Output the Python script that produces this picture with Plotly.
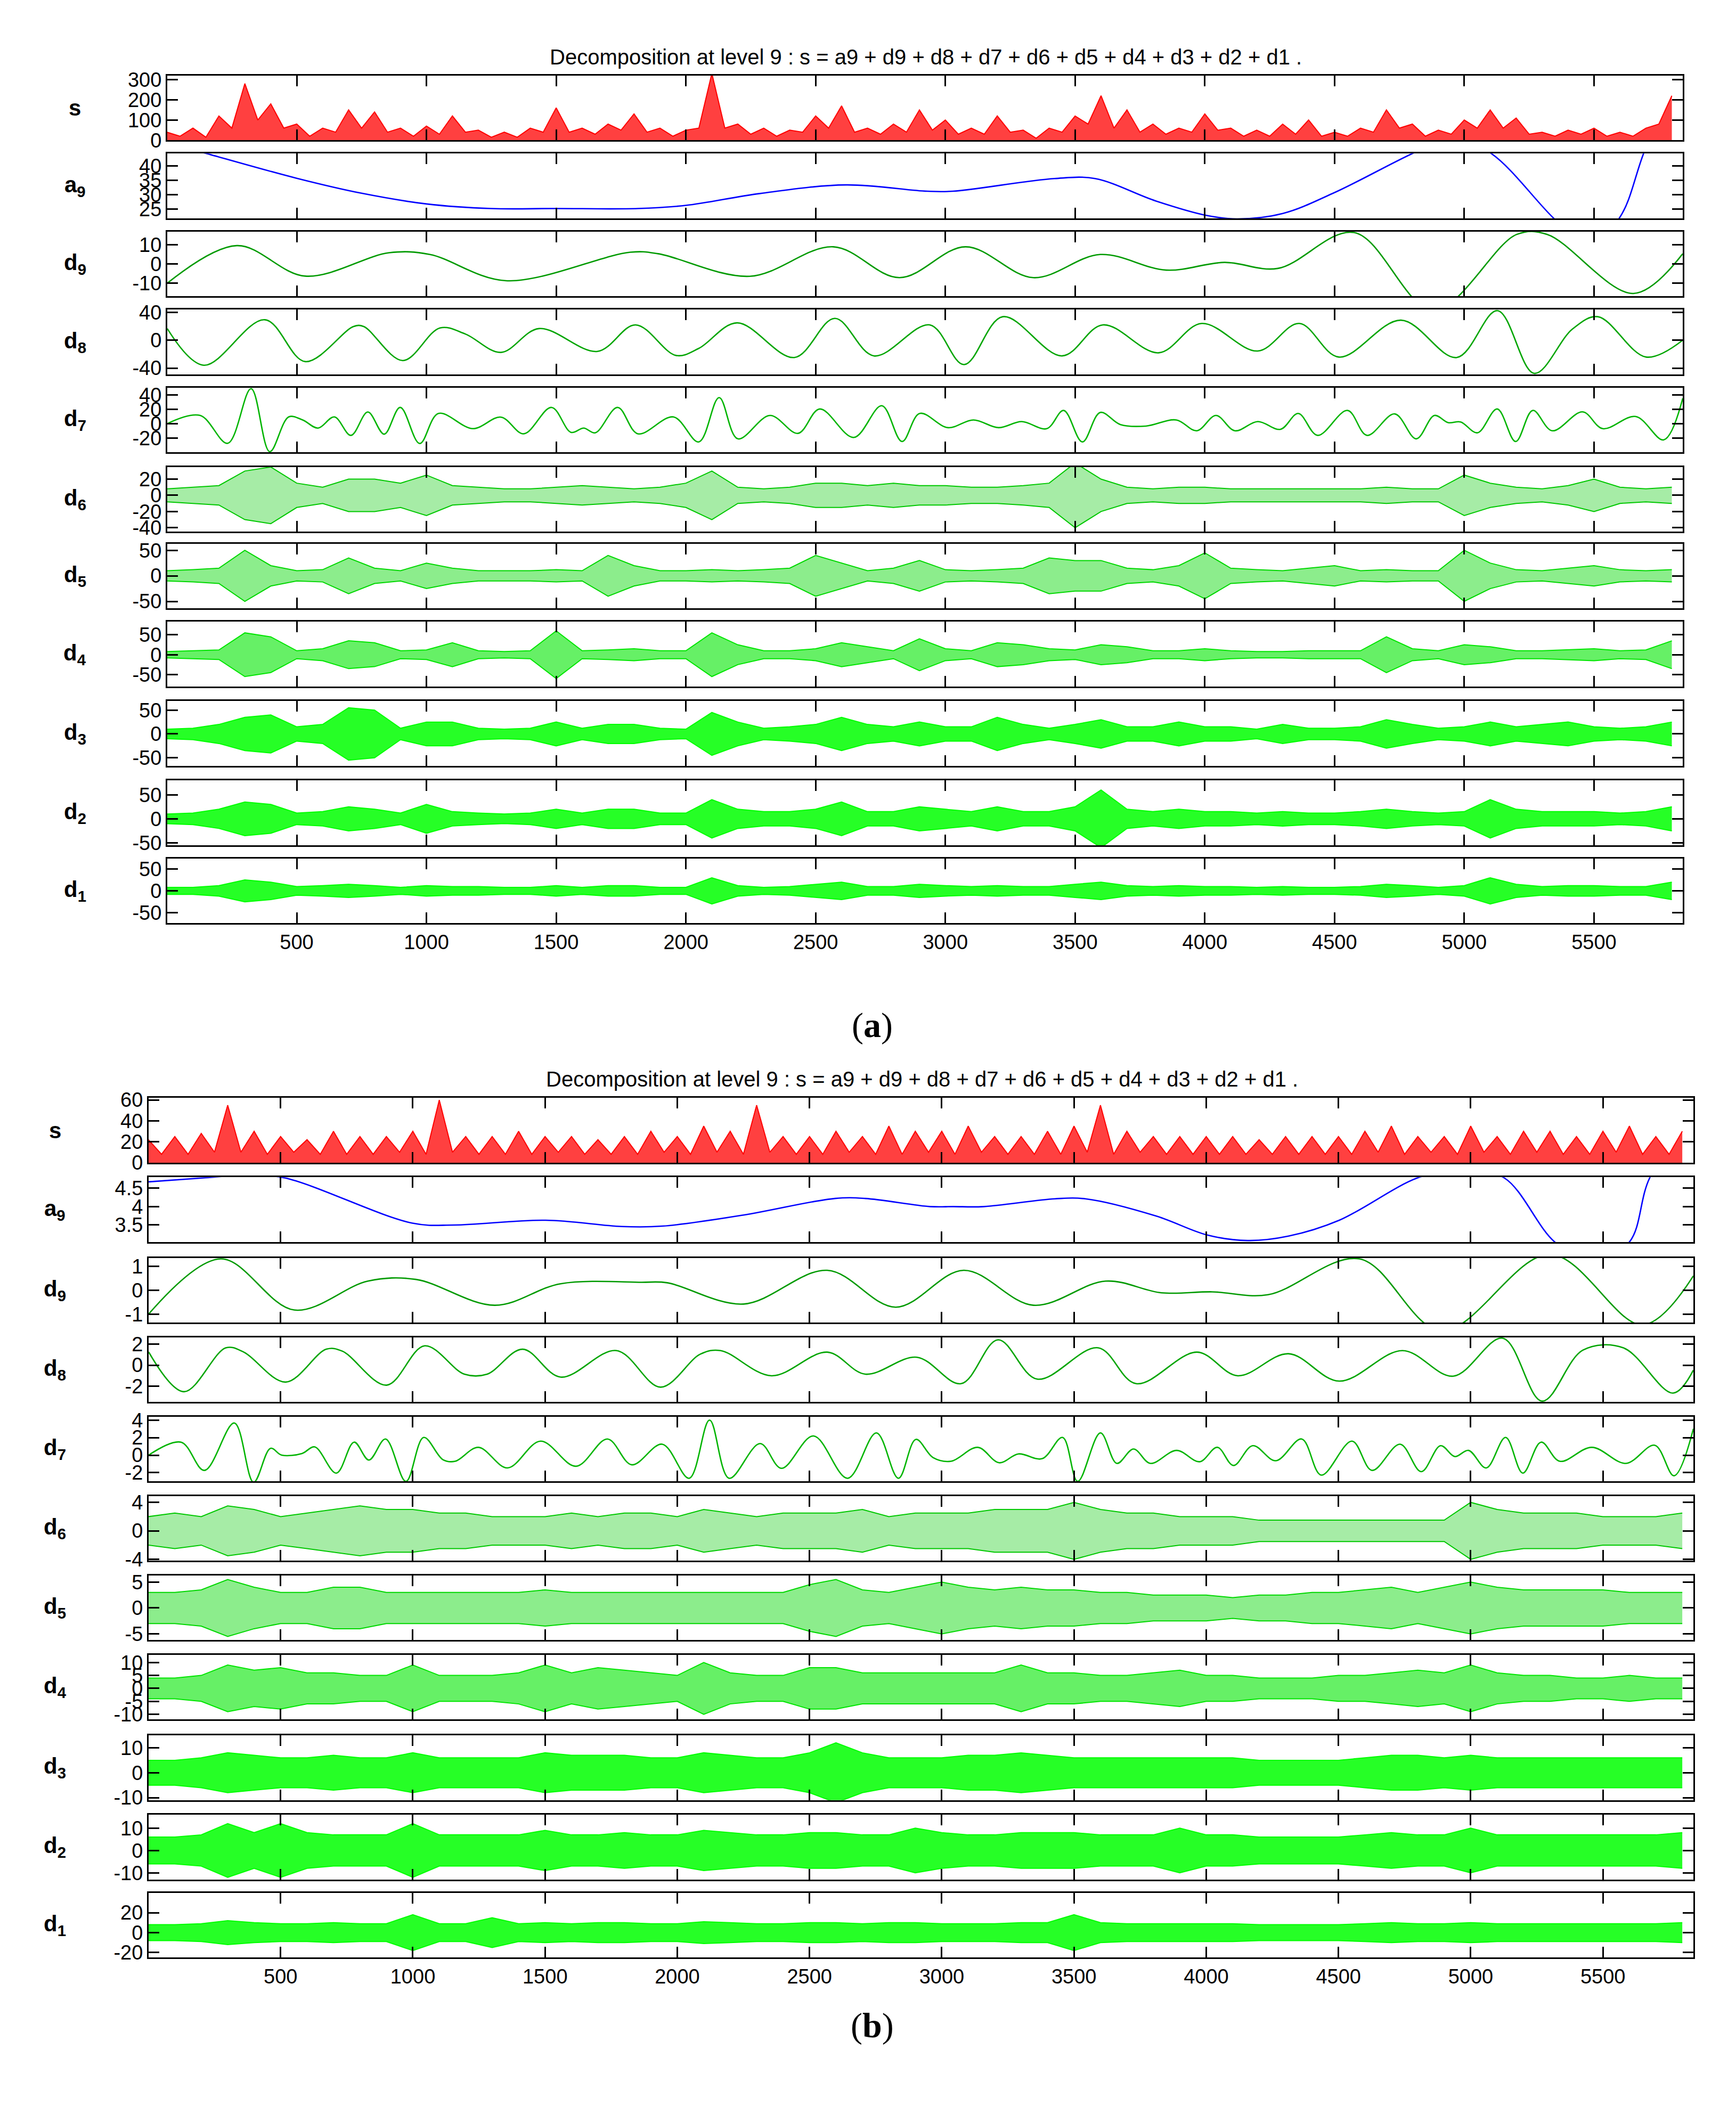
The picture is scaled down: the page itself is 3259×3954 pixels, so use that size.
import plotly.graph_objects as go

W, H = 3259, 3954
SC = 3954 / 1577.0

ENV_X = [i * 100 for i in range(59)]
XTICKS = [500, 1000, 1500, 2000, 2500, 3000, 3500, 4000, 4500, 5000, 5500]

# ---------------- panel (a) ----------------
a_s = [40,20, 60,15, 120,60, 280,100, 180,60, 80,20, 60,40, 150,60, 140,40, 60,20, 70,30, 120,40, 50,15, 40,15, 60,40, 160,40, 60,30, 80,50, 130,40, 60,20, 50,60, 330,60, 80,30, 60,20, 50,40, 120,60, 170,40, 60,30, 80,40, 150,50, 100,30, 60,30, 120,40, 50,10, 60,40, 120,80, 220,60, 150,40, 80,30, 60,40, 130,50, 60,20, 50,20, 80,30, 100,20, 40,20, 60,40, 150,60, 80,20, 50,30, 100,60, 150,60, 110,30, 40,20, 50,30, 60,20, 40,20, 60,80, 220]
a_a9_x = [1,152,500,750,1000,1248,1496,1815,2001,2285,2617,2930,3029,3420,3577,3812,4007,4125,4301,4499,4800,4950,5104,5345,5470,5597,5691,5842]
a_a9_y = [48,44.3,35.7,30.5,26.8,25.2,25.2,25.2,26.3,30.4,33.4,31.2,31.2,35.6,35.6,27.8,22.8,21.6,23.5,30.7,44.3,50,44.3,21.8,12,21.8,44.3,80]
a_d9_x = [1,269,533,856,1013,1306,1786,1893,2246,2568,2823,3078,3339,3597,3851,4076,4282,4575,4880,5202,5320,5652,5842]
a_d9_y = [-10,9.5,-6.3,5.8,4.9,-8.7,6.1,5.3,-6.4,8.9,-7.1,8.9,-7.1,4.9,-3.2,0.8,-2.3,16.3,-24,15.3,15.3,-15.3,5.3]
a_d8_x = [1,142,377,533,719,758,909,1052,1150,1287,1434,1659,1806,1962,2050,2197,2418,2574,2725,2940,3072,3221,3450,3607,3822,3988,4204,4364,4517,4756,4971,5128,5270,5417,5515,5701,5842]
a_d8_y = [16.6,-35.9,29.2,-30.7,19.6,19.6,-29.2,17.5,8.8,-17.5,16.6,-16.1,21.9,-21.9,-11.7,24.8,-24.8,31.2,-22.5,21.9,-35,33.6,-22.5,21.9,-18.1,23.9,-15.5,23.9,-24.2,28.6,-24.8,42.3,-47.6,16,33.6,-24.2,0]
a_d7_x = [1,128,234,324,396,469,523,582,645,709,774,837,899,974,1046,1179,1287,1375,1482,1557,1606,1651,1737,1815,1952,2050,2128,2200,2324,2432,2516,2647,2755,2833,2901,3010,3108,3205,3294,3391,3456,3528,3597,3675,3773,3890,3969,4043,4116,4204,4292,4360,4435,4550,4625,4732,4815,4885,4938,4986,5051,5127,5198,5264,5339,5456,5534,5661,5769,5842]
a_d7_y = [0,11.3,-27.3,48.5,-38.9,9.3,5.1,-6.2,9.3,-16.3,16.1,-14.6,22.5,-27.6,14.1,-7,9,-14.1,22.5,-12.1,-6.2,-12.7,22.5,-14.1,9.3,-25.4,36.1,-21.1,11.3,-13.5,20.3,-19.2,24.8,-24.8,14.1,-5.6,5.1,-5.6,2.8,-7,18.3,-25.4,15.5,-1.4,-3.4,5.1,-9.9,11.3,-9.9,2.8,-7.9,14.1,-16.3,18.3,-16.3,13.5,-21.1,11.3,1.4,2.3,-12.7,20.3,-24.8,18.3,-9.9,16.3,-7,9.9,-22.5,35.2]
a_d6_env = [8,10,12,30,35,15,10,20,20,15,25,12,10,8,8,10,12,10,8,10,15,30,10,8,10,15,15,12,15,12,12,10,10,12,15,40,20,10,8,10,10,8,8,8,8,8,8,10,8,8,25,15,10,8,12,20,10,8,10]
a_d5_env = [10,12,15,50,20,10,12,35,15,10,25,15,10,10,10,12,10,40,20,10,10,12,10,12,15,40,25,10,15,30,12,10,12,15,35,30,30,15,12,20,45,15,12,10,15,20,10,12,10,10,50,25,12,10,15,20,12,10,12]
a_d4_env = [8,10,12,55,45,10,15,35,30,10,12,30,10,8,10,60,10,12,15,10,10,55,25,10,10,15,30,20,10,40,15,10,30,25,15,12,25,20,10,10,15,10,8,8,10,10,10,45,15,10,25,20,10,10,12,15,10,12,35]
a_d3_env = [10,12,20,35,40,15,20,55,50,12,25,25,12,10,12,25,12,20,20,12,10,45,25,12,15,20,35,20,15,25,15,15,35,20,12,20,30,15,15,25,15,15,10,20,12,12,15,30,20,12,15,25,15,20,25,15,12,15,25]
a_d2_env = [10,12,20,35,30,12,15,25,20,12,30,15,12,10,12,20,12,20,20,12,12,40,20,15,15,20,35,15,15,25,20,15,25,15,15,25,60,20,15,20,15,15,12,15,12,12,15,20,15,12,15,40,20,15,15,15,12,15,25]
a_d1_env = [8,8,12,25,20,10,12,15,12,8,12,10,10,8,8,12,8,12,12,8,8,30,12,8,10,15,20,10,10,15,12,10,12,10,10,15,20,12,10,12,10,10,8,10,8,8,10,15,12,8,12,30,15,10,12,12,10,10,20]

# ---------------- panel (b) ----------------
b_s = [22,8, 25,8, 28,10, 55,10, 30,8, 25,10, 22,8, 30,8, 25,8, 25,10, 30,8, 60,10, 25,8, 25,8, 30,8, 25,10, 25,8, 22,8, 25,8, 30,10, 25,8, 35,10, 30,8, 55,10, 25,8, 25,8, 30,10, 25,8, 35,8, 30,10, 30,8, 35,10, 25,8, 25,8, 30,8, 35,10, 55,8, 30,10, 25,8, 25,8, 25,8, 25,8, 22,8, 25,8, 25,8, 25,8, 30,10, 35,8, 25,10, 25,8, 35,10, 25,8, 30,10, 30,8, 25,8, 30,10, 35,8, 25,8, 30]
b_a9_x = [1,216,360,513,999,1156,1502,1790,1943,2250,2596,2711,2956,3044,3159,3428,3543,3812,4004,4157,4311,4503,4800,4960,5126,5318,5460,5600,5677,5842]
b_a9_y = [4.67,4.78,4.85,4.78,3.55,3.50,3.63,3.46,3.47,3.77,4.22,4.22,4.0,4.0,4.0,4.21,4.21,3.74,3.23,3.08,3.2,3.63,4.78,5.0,4.78,3.04,2.5,3.04,4.78,6.5]
b_d9_x = [1,274,552,830,1012,1310,1559,1866,1962,2250,2567,2826,3083,3347,3620,3831,4023,4234,4579,4890,5300,5650,5842]
b_d9_y = [-1.0,1.31,-0.83,0.38,0.45,-0.63,0.27,0.33,0.31,-0.58,0.83,-0.71,0.83,-0.63,0.38,-0.11,-0.07,-0.19,1.31,-1.7,1.5,-1.45,0.6]
b_d8_x = [1,135,293,361,519,673,734,901,1045,1195,1281,1415,1559,1770,1937,2087,2164,2356,2567,2711,2906,3073,3213,3361,3591,3735,3965,4119,4311,4503,4742,4934,5121,5270,5424,5577,5765,5842]
b_d8_y = [1.26,-2.51,1.64,1.23,-1.6,1.51,1.32,-1.89,1.83,-0.85,-0.85,1.51,-1.13,1.38,-2.08,1.04,1.38,-1.0,1.23,-0.85,0.75,-1.75,2.4,-1.32,1.64,-1.75,1.23,-1.0,1.08,-1.51,1.38,-1.04,2.55,-3.4,1.42,1.64,-2.64,-0.47]
b_d7_x = [1,124,212,325,398,462,504,581,629,711,778,834,897,974,1041,1114,1160,1248,1358,1483,1617,1736,1828,1943,2045,2122,2196,2313,2394,2515,2644,2753,2836,2902,2967,3035,3136,3217,3290,3380,3457,3514,3600,3662,3725,3789,3888,3975,4042,4103,4176,4263,4361,4435,4551,4627,4733,4813,4886,4940,4992,5059,5132,5197,5266,5337,5458,5587,5696,5769,5842]
b_d7_y = [0,1.48,-1.74,3.67,-3.1,0.78,0,0.19,0.94,-2.05,1.48,-0.56,1.84,-3.0,2.02,-0.52,-0.7,0.89,-1.46,1.6,-1.27,1.84,-1.1,1.25,-2.64,4.0,-2.64,1.32,-1.5,2.19,-2.64,2.54,-2.64,1.8,-0.28,-0.7,0.89,-0.87,0.14,-0.4,2.02,-3.0,2.54,-0.94,0.7,-0.94,0.54,-0.75,0.89,-1.18,1.08,-0.64,1.84,-2.28,1.6,-1.74,1.25,-1.88,1.08,-0.16,0.54,-1.46,2.02,-2.05,1.48,-0.7,0.89,-0.94,1.13,-2.35,3.01]
b_d6_env = [2,2.5,2,3.5,3,2,2.5,3,3.5,3,3,2.5,2.5,2,2,2,2.5,2,2.5,2.5,2,3,2.5,2,2.5,2.5,2.5,3,2,2.5,2.5,2.5,3,3,3,4,3,2.5,2.5,2,2,2,1.5,1.5,1.5,1.5,1.5,1.5,1.5,1.5,4,3,2.5,2.5,2.5,2,2,2,2.5]
b_d5_env = [3,3,3.5,5.5,4,3,3,4,4,3,3,3,3,3,3,3.5,3,3,3,3,3,3,3,3,3,4.5,5.5,3.5,3,4,5,4,3.5,4,3.5,3.5,3,3,2.5,2.5,2.5,2,2.5,2.5,3,3,3.5,4,3,4,5,4,3.5,3.5,3.5,3.5,3,3,3]
b_d4_env = [4,4,5,9,7,8,6,6,5,5,9,5,5,5,6,9,6,8,7,6,5,10,6,5,5,8,8,6,6,6,6,6,6,9,6,6,5,5,6,7,5,5,4,4,4,5,5,6,7,6,9,6,5,5,4,4,5,4,4]
b_d3_env = [5,5,6,8,7,6,6,7,6,6,8,6,6,6,6,8,7,7,7,6,6,8,7,6,6,8,12,8,6,6,6,7,7,8,7,6,6,6,6,6,6,6,5,5,5,5,6,7,7,6,7,6,6,6,6,6,6,6,6]
b_d2_env = [6,6,7,12,8,12,8,7,7,7,12,7,7,7,7,9,7,7,8,7,7,9,8,7,7,8,8,7,7,10,8,7,7,8,8,8,7,7,7,10,7,7,6,6,6,6,7,8,7,7,10,7,7,7,7,7,7,7,8]
b_d1_env = [8,8,9,12,10,9,9,10,9,9,18,9,9,15,9,10,9,10,10,9,9,11,10,9,9,10,10,9,10,10,9,9,9,10,10,18,10,9,9,9,9,9,8,8,8,8,9,10,9,9,10,9,9,9,9,9,9,9,10]

ROW_NAMES = ["s", "a<sub>9</sub>", "d<sub>9</sub>", "d<sub>8</sub>", "d<sub>7</sub>", "d<sub>6</sub>",
             "d<sub>5</sub>", "d<sub>4</sub>", "d<sub>3</sub>", "d<sub>2</sub>", "d<sub>1</sub>"]
COLORS = ["#FF0000", "#0000FF", "#009A00", "#00A500", "#00B400", "#00C800", "#00D800", "#00E600", "#00FF00", "#00FF00", "#00FF00"]
FILL_OP = [1, 1, 1, 1, 1, 0.35, 0.45, 0.6, 0.85, 0.85, 0.85]

A_ROWS = [
    ("s", a_s, [0, 320], [0, 100, 200, 300]),
    ("line", (a_a9_x, a_a9_y), [21.8, 44.3], [25, 30, 35, 40]),
    ("line", (a_d9_x, a_d9_y), [-16.8, 16.8], [-10, 0, 10]),
    ("line", (a_d8_x, a_d8_y), [-49, 43.8], [-40, 0, 40]),
    ("line", (a_d7_x, a_d7_y), [-40, 50], [-20, 0, 20, 40]),
    ("env", a_d6_env, [-45, 35], [-40, -20, 0, 20]),
    ("env", a_d5_env, [-64, 63], [-50, 0, 50]),
    ("env", a_d4_env, [-80, 83], [-50, 0, 50]),
    ("env", a_d3_env, [-67, 69], [-50, 0, 50]),
    ("env", a_d2_env, [-55, 80], [-50, 0, 50]),
    ("env", a_d1_env, [-74, 74], [-50, 0, 50]),
]
B_ROWS = [
    ("s", b_s, [0, 62], [0, 20, 40, 60]),
    ("line", (b_a9_x, b_a9_y), [3.04, 4.795], [3.5, 4, 4.5]),
    ("line", (b_d9_x, b_d9_y), [-1.36, 1.35], [-1, 0, 1]),
    ("line", (b_d8_x, b_d8_y), [-3.49, 2.64], [-2, 0, 2]),
    ("line", (b_d7_x, b_d7_y), [-3.0, 4.4], [-2, 0, 2, 4]),
    ("env", b_d6_env, [-4.2, 4.9], [-4, 0, 4]),
    ("env", b_d5_env, [-6.2, 6.3], [-5, 0, 5]),
    ("env", b_d4_env, [-12, 13], [-10, -5, 0, 5, 10]),
    ("env", b_d3_env, [-11, 15], [-10, 0, 10]),
    ("env", b_d2_env, [-13, 16], [-10, 0, 10]),
    ("env", b_d1_env, [-25, 40], [-20, 0, 20]),
]

A_TOPS = [47, 106, 165, 224, 283, 343, 401, 460, 520, 580, 639]
B_TOPS = [820, 880, 941, 1001, 1061, 1121, 1181, 1241, 1302, 1362, 1421]
ROW_H = 49
TOT = 1577.0

fig = go.Figure()
layout = {}
ann = []
FONT = "Liberation Sans, Arial, sans-serif"

def rgba(hexc, a):
    r, g, b = int(hexc[1:3], 16), int(hexc[3:5], 16), int(hexc[5:7], 16)
    return "rgba(%d,%d,%d,%.2f)" % (r, g, b, a)

def fmt(v):
    s = ("%g" % v)
    return s

def add_panel(rows, tops, xdom, label_x, idx0):
    n = idx0
    for r, (kind, data, yr, yt) in enumerate(rows):
        n += 1
        xa = "xaxis" if n == 1 else "xaxis%d" % n
        ya = "yaxis" if n == 1 else "yaxis%d" % n
        xr = "x" if n == 1 else "x%d" % n
        yrf = "y" if n == 1 else "y%d" % n
        col = COLORS[r]
        if kind == "line":
            xs, ys = data
            fig.add_trace(go.Scatter(x=xs, y=ys, mode="lines", xaxis=xr, yaxis=yrf,
                                     line=dict(color=col, width=2.6, shape="spline", smoothing=1.0),
                                     showlegend=False, hoverinfo="skip"))
        elif kind == "s":
            xs = [i * 50 for i in range(len(data))]
            fig.add_trace(go.Scatter(x=xs, y=data, mode="lines", xaxis=xr, yaxis=yrf, fill="tozeroy",
                                     fillcolor=rgba(col, 0.75), line=dict(color=col, width=2),
                                     showlegend=False, hoverinfo="skip"))
        else:
            fig.add_trace(go.Scatter(x=ENV_X, y=[-v for v in data], mode="lines", xaxis=xr, yaxis=yrf,
                                     line=dict(color=col, width=2), showlegend=False, hoverinfo="skip"))
            fig.add_trace(go.Scatter(x=ENV_X, y=data, mode="lines", xaxis=xr, yaxis=yrf, fill="tonexty",
                                     fillcolor=rgba(col, FILL_OP[r]), line=dict(color=col, width=2),
                                     showlegend=False, hoverinfo="skip"))
        top = tops[r]
        y1 = 1 - top / TOT
        y0 = 1 - (top + ROW_H) / TOT
        last = (r == len(rows) - 1)
        layout[xa] = dict(domain=xdom, anchor=yrf, range=[1, 5842], tickvals=XTICKS,
                          ticktext=[str(v) for v in XTICKS],
                          showticklabels=last, ticks="inside", ticklen=20, tickwidth=2.5,
                          tickcolor="#000", mirror="ticks", showline=True, linecolor="#000",
                          linewidth=3, showgrid=False, zeroline=False,
                          tickfont=dict(family=FONT, size=38, color="#000"))
        layout[ya] = dict(domain=[y0, y1], anchor=xr, range=yr, tickvals=yt,
                          ticktext=[fmt(v) for v in yt],
                          ticks="inside", ticklen=20, tickwidth=2.5, tickcolor="#000",
                          mirror="ticks", showline=True, linecolor="#000", linewidth=3,
                          showgrid=False, zeroline=False,
                          tickfont=dict(family=FONT, size=38, color="#000"))
        ann.append(dict(text="<b>%s</b>" % ROW_NAMES[r], x=label_x, y=(y0 + y1) / 2,
                        xref="paper", yref="paper", showarrow=False, xanchor="center", yanchor="middle",
                        font=dict(family=FONT, size=42, color="#000")))
    return n

n = add_panel(A_ROWS, A_TOPS, [306 / W, 3151 / W], 53 * SC / W, 0)
add_panel(B_ROWS, B_TOPS, [271 / W, 3171 / W], 38 * SC / W, n)

TITLE = "Decomposition at level 9 : s = a9 + d9 + d8 + d7 + d6 + d5 + d4 + d3 + d2 + d1 ."
ann.append(dict(text=TITLE, x=690 * SC / W, y=1 - 33 / TOT, xref="paper", yref="paper", showarrow=False,
                yanchor="middle", font=dict(family=FONT, size=40, color="#000")))
ann.append(dict(text=TITLE, x=687 * SC / W, y=1 - 806 / TOT, xref="paper", yref="paper", showarrow=False,
                yanchor="middle", font=dict(family=FONT, size=40, color="#000")))
ann.append(dict(text="(<b>a</b>)", x=650 * SC / W, y=1 - 765 / TOT, xref="paper", yref="paper",
                showarrow=False, font=dict(family="Liberation Serif, Times New Roman, serif", size=66, color="#000")))
ann.append(dict(text="(<b>b</b>)", x=650 * SC / W, y=1 - 1537 / TOT, xref="paper", yref="paper",
                showarrow=False, font=dict(family="Liberation Serif, Times New Roman, serif", size=66, color="#000")))

fig.update_layout(width=W, height=H, margin=dict(l=0, r=0, t=0, b=0),
                  paper_bgcolor="white", plot_bgcolor="white", annotations=ann, **layout)
fig.write_html("out.html")
